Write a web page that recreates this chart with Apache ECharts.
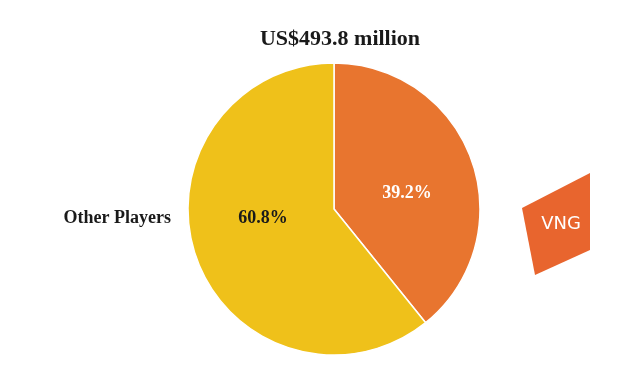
<!DOCTYPE html>
<html><head><meta charset="utf-8">
<script src="https://cdn.jsdelivr.net/npm/echarts@6/dist/echarts.min.js"></script>
<style>html,body{margin:0;padding:0;background:#fff}#c{width:632px;height:374px}</style>
</head><body><div id="c"></div>
<script>
const title = 'US$493.8 million';
const names = ['VNG', 'Other Players'];
const values = [39.2, 60.8];
const colors = ['#E8752F', '#EFC11A'];
const labelColors = ['#ffffff', '#1a1a1a'];

const serif = '"Liberation Serif", "Times New Roman", serif';
const chart = echarts.init(document.getElementById('c'));
const data = names.map((n, i) => ({ name: n, value: values[i], itemStyle: { color: colors[i] } }));

chart.setOption({
  animation: false,
  title: { text: title, left: 335, top: 23, textAlign: 'center',
    textStyle: { fontFamily: serif, fontWeight: 'bold', fontSize: 22, color: '#1a1a1a' } },
  series: [{
    type: 'pie', center: [334, 209], radius: [0, 146], startAngle: 90, clockwise: true,
    silent: true,
    itemStyle: { borderColor: '#fff', borderWidth: 1.5 },
    label: { show: true, position: 'inside', formatter: p => p.value.toFixed(1) + '%',
      fontFamily: serif, fontWeight: 'bold', fontSize: 18,
      color: '#1a1a1a' },
    labelLine: { show: false },
    labelLayout: p => p.dataIndex === 0 ? { x: 407, y: 193, align: 'center', verticalAlign: 'middle' }
                                         : { x: 263, y: 218, align: 'center', verticalAlign: 'middle' },
    data: data.map((d, i) => Object.assign({}, d, { label: { color: labelColors[i] } }))
  }, {
    type: 'pie', center: [334, 209], radius: [0, 146], startAngle: 90, clockwise: true,
    silent: true, z: 1,
    itemStyle: { color: 'transparent', borderWidth: 0 },
    label: { show: true, position: 'outside', formatter: p => p.dataIndex === 1 ? p.name : '',
      fontFamily: serif, fontWeight: 'bold', fontSize: 18, color: '#1a1a1a' },
    labelLine: { show: false },
    labelLayout: p => p.dataIndex === 1 ? { x: 171, y: 218, align: 'right', verticalAlign: 'middle' } : { x: -100, y: -100 },
    data: names.map((n, i) => ({ name: n, value: values[i] }))
  }],
  graphic: [{
    type: 'polygon',
    shape: { points: [[522, 208], [590, 173], [590, 250], [535, 275]] },
    style: { fill: '#E8652E' }
  }, {
    type: 'text', x: 561, y: 224,
    style: { text: names[0], fill: '#fff', font: '18px "DejaVu Sans", sans-serif',
      align: 'center', verticalAlign: 'middle' }
  }]
});
</script></body></html>
